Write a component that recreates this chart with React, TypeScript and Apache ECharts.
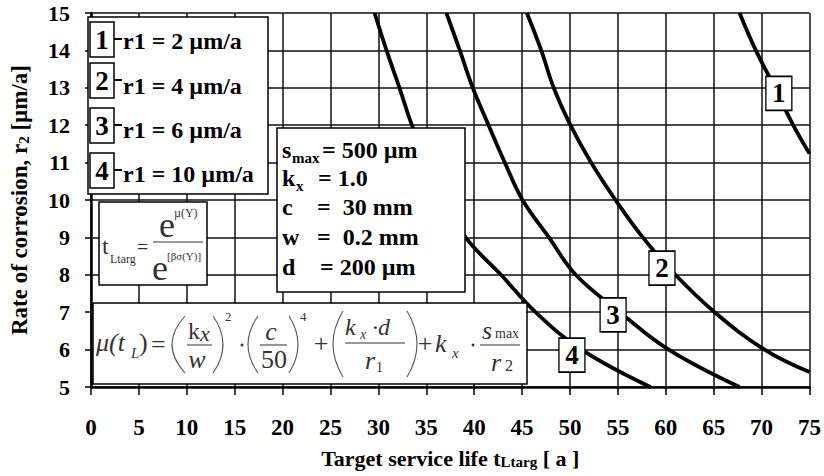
import React, { useEffect, useRef } from "react";
import * as echarts from "echarts";

const SERIF = "Liberation Serif";

// axis ranges
const xMin = 0;
const xMax = 75;
const xStep = 5;
const yMin = 5;
const yMax = 15;
const yStep = 1;

// curves: [t_Ltarg, r2]
const curve1 = [[67.7, 15], [69.4, 14], [71.4, 13], [73.3, 12], [75, 11.24]];
const curve2 = [[45.5, 15], [47.0, 14], [48.3, 13], [50.05, 12], [52.2, 11], [54.75, 10], [57.6, 9], [61.0, 8], [65.1, 7], [70.3, 6], [75, 5.4]];
const curve3 = [[37.1, 15], [38.5, 14], [39.85, 13], [41.5, 12], [43.2, 11], [45.05, 10], [47.8, 9], [50.6, 8], [55.2, 7], [60.3, 6], [67.7, 5]];
const curve4 = [[29.6, 15], [30.85, 14], [32.2, 13], [33.5, 12], [35.1, 11], [36.9, 10], [39.1, 9], [42.8, 8], [46.4, 7], [51.2, 6], [58.4, 5]];
const curves = [curve1, curve2, curve3, curve4];

// curve number tags placed on the curves
const curveTags = [[71.8, 12.85, "1"], [59.6, 8.18, "2"], [54.5, 6.93, "3"], [50.2, 5.85, "4"]];

// legend
const legendNums = ["1", "2", "3", "4"];
const legendTexts = ["r1 = 2 µm/a", "r1 = 4 µm/a", "r1 = 6 µm/a", "r1 = 10 µm/a"];

// parameter box
const paramNames = ["s", "k", "c", "w", "d"];
const paramSubs = ["max", "x", "", "", ""];
const paramValues = ["= 500 µm", "= 1.0", "=  30 mm", "=  0.2 mm", "= 200 µm"];

type Opt = { bold?: boolean; italic?: boolean; color?: string; align?: string; z?: number };
function T(x: number, y: number, text: string, size: number, o: Opt = {}) {
  const align = o.align || "left";
  return {
    type: "text",
    x,
    y,
    z: o.z ?? 120,
    style: {
      text,
      fontFamily: SERIF,
      fontSize: size,
      fontWeight: o.bold ? "bold" : "normal",
      fontStyle: o.italic ? "italic" : "normal",
      fill: o.color || "#000",
      align,
      textAlign: align,
      verticalAlign: "middle",
      textVerticalAlign: "middle",
    },
  };
}
function R(x: number, y: number, w: number, h: number, lw = 1.5, z = 100) {
  return {
    type: "rect",
    z,
    shape: { x, y, width: w, height: h },
    style: { fill: "#fff", stroke: "#000", lineWidth: lw },
  };
}
function L(x1: number, y1: number, x2: number, y2: number, lw = 1, color = "#333") {
  return { type: "line", z: 120, shape: { x1, y1, x2, y2 }, style: { stroke: color, lineWidth: lw } };
}
function P(x: number, top: number, bottom: number, ctrlX: number) {
  return {
    type: "bezierCurve",
    z: 120,
    shape: { x1: x, y1: top, x2: x, y2: bottom, cpx1: ctrlX, cpy1: (top + bottom) / 2 },
    style: { stroke: "#555", lineWidth: 1.1, fill: null },
  };
}
function D(x: number, y: number) {
  return { type: "circle", z: 120, shape: { cx: x, cy: y, r: 1.4 }, style: { fill: "#333" } };
}

function buildGraphics() {
  const g: any[] = [];
  const FC = "#333";
  // legend box
  g.push(R(88, 17, 180, 177, 1.5));
  const boxTops = [22, 63, 108, 153];
  const textYs = [41, 86, 130, 174];
  legendNums.forEach((n, i) => {
    g.push(R(90, boxTops[i], 24, 35, 1.5, 110));
    g.push(T(102, boxTops[i] + 18, n, 27, { bold: true, align: "center" }));
    g.push(L(114, boxTops[i] + 17, 122, boxTops[i] + 17, 2, "#000"));
    g.push(T(123, textYs[i], legendTexts[i], 24, { bold: true }));
  });

  // parameter box
  g.push(R(277, 128, 188, 164, 1.5));
  const pys = [150, 178, 207, 237, 267];
  const eqX = [322, 318, 317, 317, 320];
  paramNames.forEach((n, i) => {
    g.push(T(282, pys[i], n, 24, { bold: true }));
    if (paramSubs[i]) g.push(T(i === 1 ? 296 : 292, pys[i] + 8, paramSubs[i], 15, { bold: true }));
    g.push(T(eqX[i], pys[i], paramValues[i], 24, { bold: true }));
  });

  // t_Ltarg formula box
  g.push(R(99, 202, 108, 83, 1.5));
  g.push(T(102, 246, "t", 24, { color: FC }));
  g.push(T(110, 259, "Ltarg", 12, { color: FC }));
  g.push(T(137, 247, "=", 20, { color: FC }));
  g.push(L(153, 242, 203, 242, 1, FC));
  g.push(T(159, 225, "e", 36, { color: FC }));
  g.push(T(174, 213, "µ(Y)", 12, { color: FC }));
  g.push(T(152, 268, "e", 36, { color: FC }));
  g.push(T(167, 256, "[βσ(Y)]", 11, { color: FC }));

  // mu formula box
  g.push(R(93, 303, 434, 81, 1.5));
  g.push(T(96, 342, "μ(t", 26, { italic: true, color: FC }));
  g.push(T(131, 353, "L", 15, { italic: true, color: FC }));
  g.push(T(139, 342, ")", 26, { color: FC }));
  g.push(T(151, 344, "=", 26, { color: FC }));
  g.push(P(185, 316, 373, 159));
  g.push(T(188, 331, "k", 24, { color: FC }));
  g.push(T(200, 333, "x", 22, { italic: true, color: FC }));
  g.push(L(187, 345, 212, 345, 1, FC));
  g.push(T(197, 359, "w", 26, { italic: true, color: FC, align: "center" }));
  g.push(P(213, 316, 373, 233));
  g.push(T(225, 316, "2", 13, { color: FC }));
  g.push(D(242, 345));
  g.push(P(258, 316, 373, 238));
  g.push(T(271, 331, "c", 26, { italic: true, color: FC, align: "center" }));
  g.push(L(260, 345, 287, 345, 1, FC));
  g.push(T(274, 359, "50", 26, { color: FC, align: "center" }));
  g.push(P(289, 316, 373, 307));
  g.push(T(300, 316, "4", 13, { color: FC }));
  g.push(T(321, 343, "+", 26, { color: FC, align: "center" }));
  g.push(P(343, 311, 377, 323));
  g.push(T(345, 327, "k", 24, { italic: true, color: FC }));
  g.push(T(360, 334, "x", 14, { italic: true, color: FC }));
  g.push(T(372, 327, "·d", 24, { italic: true, color: FC }));
  g.push(L(345, 343, 405, 343, 1, FC));
  g.push(T(365, 360, "r", 26, { italic: true, color: FC }));
  g.push(T(376, 367, "1", 14, { color: FC }));
  g.push(P(407, 311, 377, 427));
  g.push(T(425, 343, "+", 26, { color: FC, align: "center" }));
  g.push(T(435, 343, "k", 26, { italic: true, color: FC }));
  g.push(T(452, 353, "x", 15, { italic: true, color: FC }));
  g.push(D(473, 345));
  g.push(T(482, 330, "s", 26, { italic: true, color: FC }));
  g.push(T(495, 333, "max", 14, { color: FC }));
  g.push(L(480, 345, 520, 345, 1, FC));
  g.push(T(491, 362, "r", 26, { italic: true, color: FC }));
  g.push(T(505, 365, "2", 16, { color: FC }));
  return g;
}

export default function App() {
  const ref = useRef<HTMLDivElement>(null);
  useEffect(() => {
    if (!ref.current) return;
    const chart = echarts.init(ref.current, undefined, { renderer: "svg" });
    const axisLabel = { fontFamily: SERIF, fontWeight: "bold", color: "#000" };
    const richX = {
      b: { fontFamily: SERIF, fontSize: 22, fontWeight: "bold", color: "#000", lineHeight: 24, verticalAlign: "bottom" },
      s: { fontFamily: SERIF, fontSize: 15, fontWeight: "bold", color: "#000", lineHeight: 10, verticalAlign: "bottom" },
    };
    const richY = {
      b: { fontFamily: SERIF, fontSize: 23, fontWeight: "bold", color: "#000", lineHeight: 25, verticalAlign: "bottom" },
      s: { fontFamily: SERIF, fontSize: 15, fontWeight: "bold", color: "#000", lineHeight: 10, verticalAlign: "bottom" },
    };
    const option: any = {
      animation: false,
      backgroundColor: "#fff",
      grid: { left: 88, right: 14, top: 13, bottom: 89 },
      xAxis: {
        type: "value",
        min: xMin,
        max: xMax,
        interval: xStep,
        name: "{b|Target service life t}{s|Ltarg}{b| [ a ]}",
        nameLocation: "middle",
        nameGap: 58,
        nameTextStyle: { fontFamily: SERIF, rich: richX },
        axisLine: { show: true, onZero: false, lineStyle: { color: "#000", width: 2.5 } },
        axisTick: { show: true, inside: false, length: 8, lineStyle: { color: "#000", width: 1.5 } },
        axisLabel: { ...axisLabel, fontSize: 23, margin: 29 },
        splitLine: { show: true, lineStyle: { color: "#111", width: 1.5 } },
      },
      yAxis: {
        type: "value",
        min: yMin,
        max: yMax,
        interval: yStep,
        name: "{b|Rate of corrosion, r}{s|2}{b| [µm/a]}",
        nameLocation: "middle",
        nameGap: 60,
        nameTextStyle: { fontFamily: SERIF, rich: richY },
        axisLine: { show: true, lineStyle: { color: "#000", width: 2.5 } },
        axisTick: { show: true, inside: false, length: 6, lineStyle: { color: "#000", width: 1.5 } },
        axisLabel: { ...axisLabel, fontSize: 22, margin: 21 },
        splitLine: { show: true, lineStyle: { color: "#111", width: 1.5 } },
      },
      series: [
        ...curves.map((c, i) => ({
          type: "line",
          name: "curve" + (i + 1),
          data: c,
          smooth: 0.4,
          showSymbol: false,
          symbol: "none",
          clip: true,
          z: 3,
          lineStyle: { color: "#000", width: 3.8 },
        })),
        {
          type: "scatter",
          data: curveTags,
          symbol: "rect",
          symbolSize: [26, 34],
          z: 6,
          itemStyle: { color: "#fff", borderColor: "#000", borderWidth: 1.5, opacity: 1 },
          label: {
            show: true,
            position: "inside",
            formatter: (p: any) => p.value[2],
            fontFamily: SERIF,
            fontWeight: "bold",
            fontSize: 27,
            color: "#000",
          },
        },
      ],
      graphic: { elements: buildGraphics() },
    };
    chart.setOption(option);
    return () => chart.dispose();
  }, []);
  return (
    <div
      ref={ref}
      style={{ position: "absolute", left: 0, top: 0, width: 824, height: 476, background: "#fff" }}
    />
  );
}
